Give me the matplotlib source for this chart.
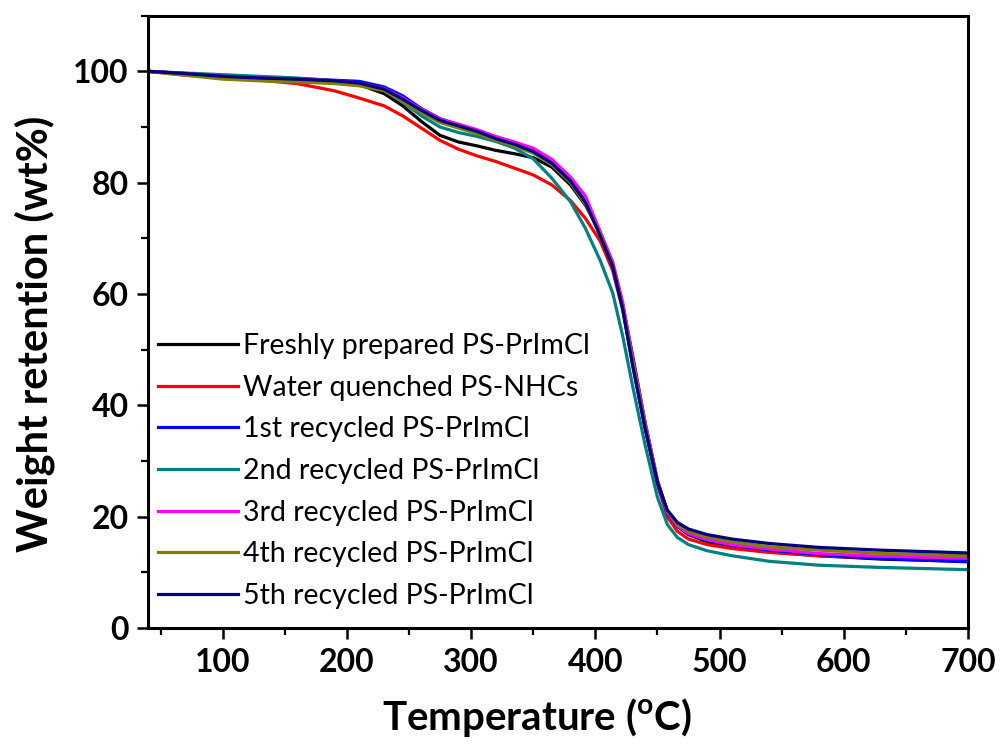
import matplotlib.pyplot as plt
from matplotlib.ticker import MultipleLocator

# Data
temperature = [40, 70, 100, 130, 160, 190, 210, 230, 245, 260, 275, 290, 305, 320, 335, 350, 365,
               380, 392, 404, 414, 422, 430, 440, 450, 458, 466, 475, 490, 510, 540, 580, 630, 700]

fresh = [100, 99.6, 99.1, 98.8, 98.5, 98.1, 97.6, 96.0, 93.8, 91.0, 88.5, 87.3, 86.6, 85.8, 85.2, 84.5, 82.8,
         79.6, 76.0, 71.0, 65.0, 58.0, 49.0, 37.0, 26.5, 20.8, 18.3, 16.8, 15.5, 14.6, 13.7, 13.0, 12.4, 12.0]
water = [100, 99.3, 98.9, 98.4, 97.8, 96.5, 95.2, 93.8, 92.0, 89.8, 87.6, 86.0, 84.8, 83.8, 82.6, 81.4, 79.6,
         76.8, 73.6, 69.5, 64.2, 57.2, 48.0, 36.2, 25.8, 20.0, 17.4, 16.0, 15.0, 14.3, 13.6, 13.0, 12.6, 12.4]
rec1 = [100, 99.6, 99.2, 98.9, 98.7, 98.4, 98.2, 97.2, 95.6, 93.3, 91.5, 90.4, 89.3, 88.0, 87.0, 85.7, 83.6,
        80.4, 76.6, 70.6, 65.0, 57.5, 47.5, 36.0, 26.0, 20.6, 18.3, 16.9, 15.8, 14.9, 14.0, 13.2, 12.5, 11.9]
rec2 = [100, 99.7, 99.4, 99.1, 98.8, 98.3, 97.8, 96.6, 94.5, 92.0, 90.0, 89.0, 88.3, 87.4, 86.2, 84.3, 80.8,
        76.6, 71.8, 66.0, 60.2, 52.5, 43.5, 33.0, 23.5, 18.6, 16.3, 15.0, 13.9, 13.0, 12.0, 11.3, 10.9, 10.5]
rec3 = [100, 99.6, 99.1, 98.8, 98.6, 98.3, 97.9, 96.9, 95.2, 93.2, 91.4, 90.5, 89.5, 88.3, 87.3, 86.2, 84.2,
        81.0, 77.6, 71.2, 65.8, 58.6, 48.5, 37.0, 26.6, 20.8, 18.4, 17.0, 15.9, 15.0, 14.2, 13.4, 12.9, 12.6]
rec4 = [100, 99.3, 98.6, 98.3, 98.1, 97.8, 97.4, 96.5, 94.6, 92.6, 90.8, 89.8, 88.8, 87.6, 86.6, 85.3, 83.2,
        80.0, 76.2, 70.8, 65.2, 57.8, 48.0, 36.5, 26.3, 21.0, 18.6, 17.4, 16.3, 15.5, 14.6, 14.0, 13.4, 13.0]
rec5 = [100, 99.6, 99.1, 98.8, 98.6, 98.3, 97.9, 96.8, 95.0, 93.0, 91.2, 90.2, 89.2, 87.9, 86.9, 85.6, 83.5,
        80.3, 76.5, 70.4, 65.0, 57.4, 47.2, 36.0, 26.2, 21.2, 19.0, 17.8, 16.8, 16.0, 15.2, 14.5, 14.0, 13.5]

labels = ['Freshly prepared PS-PrImCl', 'Water quenched PS-NHCs', '1st recycled PS-PrImCl',
          '2nd recycled PS-PrImCl', '3rd recycled PS-PrImCl', '4th recycled PS-PrImCl',
          '5th recycled PS-PrImCl']
colors = ['#000000', '#FF0000', '#0000FF', '#008080', '#FF00FF', '#808000', '#000080']

plt.rcParams['font.family'] = ['Lato', 'DejaVu Sans']

fig = plt.figure(figsize=(10.01, 7.46), dpi=100)
ax = fig.add_axes([0.148, 0.158, 0.819, 0.821])

for y, lab, c in zip([fresh, water, rec1, rec2, rec3, rec4, rec5], labels, colors):
    ax.plot(temperature, y, color=c, lw=2.3, label=lab)

ax.set_xlim(40, 700)
ax.set_ylim(0, 110)
ax.xaxis.set_major_locator(MultipleLocator(100))
ax.xaxis.set_minor_locator(MultipleLocator(50))
ax.yaxis.set_major_locator(MultipleLocator(20))
ax.yaxis.set_minor_locator(MultipleLocator(10))
ax.tick_params(which='major', direction='out', length=8, width=1.8, pad=6, labelsize=23)
ax.tick_params(which='minor', direction='out', length=5, width=1.6)
for lbl in ax.get_xticklabels() + ax.get_yticklabels():
    lbl.set_fontweight('bold')
for s in ax.spines.values():
    s.set_linewidth(2.2)

ax.set_xlabel(r'Temperature ($^{\mathregular{o}}$C)', fontsize=29, fontweight='bold')
ax.set_ylabel('Weight retention (wt%)', fontsize=30, fontweight='bold')
ax.xaxis.set_label_coords(0.474, -0.11)
ax.yaxis.set_label_coords(-0.114, 0.48)

ax.legend(loc='upper left', bbox_to_anchor=(0.012, 0.482), frameon=False, fontsize=20.5,
          handlelength=2.8, handletextpad=0.2, labelspacing=0.55, borderpad=0, borderaxespad=0)

fig.savefig('out.png', dpi=100)
